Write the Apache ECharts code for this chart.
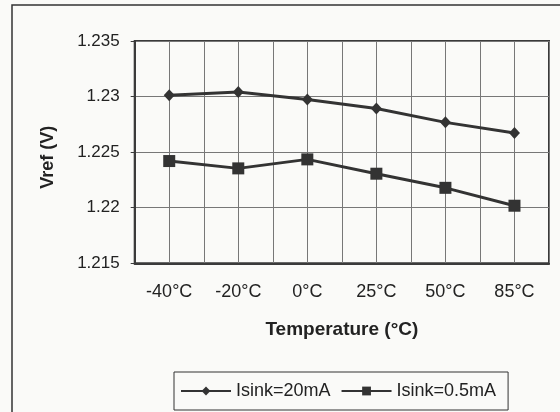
<!DOCTYPE html>
<html>
<head>
<meta charset="utf-8">
<script src="https://cdn.jsdelivr.net/npm/echarts@6/dist/echarts.min.js"></script>
<style>
html,body{margin:0;padding:0;background:#fafaf8;}
#chart{width:560px;height:412px;}
</style>
</head>
<body>
<div id="chart"></div>
<script>
var categories = ['-40°C', '-20°C', '0°C', '25°C', '50°C', '85°C'];
var sink20mA = [1.23012, 1.23042, 1.22973, 1.22893, 1.22768, 1.22672];
var sink05mA = [1.2242, 1.22354, 1.22435, 1.22306, 1.22179, 1.22018];
var seriesNames = ['Isink=20mA', 'Isink=0.5mA'];
var yTicks = [1.215, 1.22, 1.225, 1.23, 1.235];

var FONT = 'Liberation Sans, Arial, sans-serif';
var chart = echarts.init(document.getElementById('chart'));
chart.setOption({
  backgroundColor: '#fafaf8',
  animation: false,
  textStyle: { fontFamily: FONT, color: '#222' },
  graphic: [{
    type: 'rect',
    shape: { x: 12, y: 5, width: 620, height: 520 },
    style: { fill: 'none', stroke: '#333', lineWidth: 1.5 },
    silent: true
  }],
  grid: {
    left: 134.7, top: 41, right: 11, bottom: 148.7,
    show: true, borderColor: '#3a3a3a', borderWidth: 2, backgroundColor: 'transparent'
  },
  legend: {
    data: seriesNames,
    left: 174, top: 372,
    orient: 'horizontal',
    backgroundColor: '#fafaf8',
    borderColor: '#333', borderWidth: 1,
    padding: [10, 12, 10, 6],
    itemWidth: 50, itemHeight: 11, itemGap: 10,
    textStyle: { fontFamily: FONT, fontSize: 18, color: '#222' }
  },
  xAxis: [{
    type: 'category',
    data: categories,
    boundaryGap: true,
    axisLine: { show: true, lineStyle: { color: '#3a3a3a', width: 2 } },
    axisTick: { show: false },
    axisLabel: { fontSize: 18, color: '#222', margin: 20, interval: 0 },
    splitLine: { show: false },
    name: 'Temperature (°C)',
    nameLocation: 'middle',
    nameGap: 57,
    nameTextStyle: { fontSize: 19, fontWeight: 'bold', color: '#222' }
  }, {
    type: 'value',
    position: 'top',
    min: 0, max: 12, interval: 1,
    axisLine: { show: false }, axisTick: { show: false }, axisLabel: { show: false },
    splitLine: { show: true, lineStyle: { color: '#777', width: 1 } }
  }],
  yAxis: {
    type: 'value',
    min: yTicks[0], max: yTicks[yTicks.length - 1], interval: 0.005,
    axisLine: { show: true, lineStyle: { color: '#3a3a3a', width: 2 } },
    axisTick: { show: true, length: 4, lineStyle: { color: '#3a3a3a', width: 1 } },
    axisLabel: {
      fontSize: 17, color: '#222', margin: 15,
      formatter: function (v) { return String(+v.toFixed(3)); }
    },
    splitLine: { show: true, lineStyle: { color: '#777', width: 1 } },
    name: 'Vref (V)',
    nameLocation: 'middle',
    nameRotate: 90,
    nameGap: 78,
    nameTextStyle: { fontSize: 18, fontWeight: 'bold', color: '#222', padding: [0, 0, 0, -10] }
  },
  series: [{
    name: seriesNames[0],
    type: 'line',
    xAxisIndex: 0,
    data: sink20mA,
    symbol: 'diamond',
    symbolSize: [11, 12],
    itemStyle: { color: '#333' },
    lineStyle: { color: '#333', width: 3 }
  }, {
    name: seriesNames[1],
    type: 'line',
    xAxisIndex: 0,
    data: sink05mA,
    symbol: 'rect',
    symbolSize: 12,
    itemStyle: { color: '#333' },
    lineStyle: { color: '#333', width: 3 }
  }]
});
</script>
</body>
</html>
